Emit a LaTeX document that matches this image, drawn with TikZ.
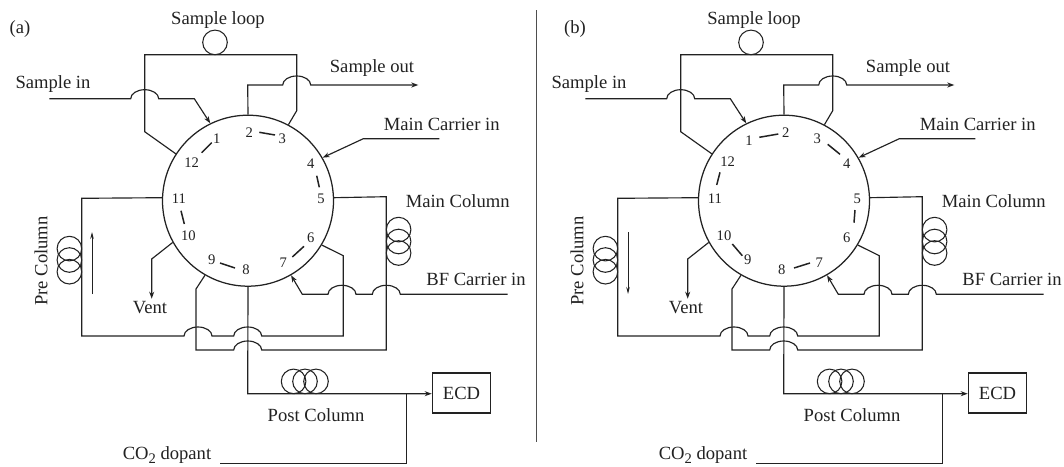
\documentclass[tikz,border=0pt]{standalone}
\usepackage{fontspec}
\setmainfont{Liberation Serif}
\usetikzlibrary{arrows.meta}
\definecolor{ink}{HTML}{222222}
\tikzset{
  pipe/.style={draw=ink,line width=1.15pt,line join=miter},
  flow/.style={pipe,-{Stealth[length=7pt,width=5pt]}},
  thinflow/.style={draw=ink,line width=0.8pt,-{Stealth[length=7pt,width=3.5pt]}},
  coil/.style={draw=ink,line width=1.05pt,circle,minimum size=24.6pt,inner sep=0pt},
  valve/.style={draw=ink,line width=1.25pt,circle,minimum size=171pt,inner sep=0pt},
  lbl/.style={text=ink,font=\fontsize{18.6pt}{20pt}\selectfont,inner sep=0pt},
  port/.style={text=ink,font=\fontsize{14.6pt}{16pt}\selectfont,inner sep=0pt},
  connbar/.style={draw=ink,line width=1.5pt},
  detector/.style={draw=ink,line width=1.2pt,minimum width=58.4pt,minimum height=40pt,inner sep=0pt,
    font=\fontsize{18.6pt}{20pt}\selectfont,text=ink}
}
\newcommand\jumpR{arc[start angle=180,end angle=0,x radius=14pt,y radius=9pt]}
\newcommand\jumpL{arc[start angle=0,end angle=180,x radius=14pt,y radius=9pt]}
\newcommand\lnk[5]{\coordinate (#1s) at (#2,#3); \coordinate (#1e) at (#4,#5); \draw[connbar] (#1s) -- (#1e);}
% #1 prefix, #2 y of the CO2 text
\newcommand\panel[2]{%
  \node[valve] (#1v) at (248,200.7) {};
  \node[lbl] (#1loopt) at (218,20) {Sample loop};
  \node[coil] (#1loop) at (215,42.4) {};
  \node[lbl] (#1int) at (53,84) {Sample in};
  \node[lbl] (#1outt) at (372,68) {Sample out};
  \node[lbl] (#1mct) at (441.7,124) {Main Carrier in};
  \node[lbl] (#1mcolt) at (457.7,201) {Main Column};
  \node[lbl,rotate=90] (#1pret) at (41,261) {Pre Column};
  \node[lbl] (#1ventt) at (150,308) {Vent};
  \node[lbl] (#1postt) at (316,414.7) {Post Column};
  \node[lbl] (#1bft) at (476,279.7) {BF Carrier in};
  \node[lbl,anchor=base] (#1cot) at (167,#2) {CO\raisebox{-4pt}{\fontsize{14.6pt}{16pt}\selectfont 2} dopant};
  \node[detector] (#1ecd) at (461.5,393) {ECD};
  % coils
  \node[coil] (#1mc1) at (398.6,229.6) {};
  \node[coil] (#1mc2) at (398.6,241.5) {};
  \node[coil] (#1mc3) at (398.6,253) {};
  \node[coil] (#1pc1) at (69.4,248.6) {};
  \node[coil] (#1pc2) at (69.4,260) {};
  \node[coil] (#1pc3) at (69.4,271.7) {};
  \node[coil] (#1po1) at (293.6,381.4) {};
  \node[coil] (#1po2) at (305,381.4) {};
  \node[coil] (#1po3) at (316,381.4) {};
  % sample loop
  \draw[pipe] (#1v.147) -- (144.7,131.7) -- (144.7,54.7) -- (296.7,54.7) -- (296.7,110.7) -- (#1v.62);
  % sample in
  \coordinate (#1ins) at (49.3,98.7);
  \draw[flow] (#1ins) -- (130.7,98.7) \jumpR -- (194.3,98.7) -- (#1v.116);
  % sample out
  \coordinate (#1oute) at (418.3,85);
  \draw[flow] (#1v.90) -- (247.7,85) -- (282.7,85) \jumpR -- (#1oute);
  % main carrier
  \coordinate (#1mcs) at (439.3,138.7);
  \draw[flow] (#1mcs) -- (363.3,138.7) -- (#1v.30.5);
  % main column path
  \draw[pipe] (#1v.2.7) -- (386.3,196.7) -- (386.3,350) -- (261.7,350) \jumpL -- (196,350) -- (196,289) -- (#1v.240);
  % pre column path
  \draw[pipe] (#1v.-31) -- (343.3,255.7) -- (343.3,336) -- (261.7,336) \jumpL -- (212,336) \jumpL -- (81.7,336) -- (81.7,198.3) -- (#1v.178.4);
  % vent
  \draw[flow] (#1v.209) -- (151.7,259) -- (151.7,298.7);
  % post column
  \draw[flow] (#1v.-90) -- (247.7,393.7) -- (#1ecd.west |- 0,393.7);
  % CO2 dopant
  \coordinate (#1cos) at (220,463.7);
  \coordinate (#1joint) at (406.7,393.7);
  \draw[pipe] (#1cos) -- (406.7,463.7) -- (#1joint);
  % BF carrier
  \coordinate (#1bfs) at (507.7,294.3);
  \draw[flow] (#1bfs) -- (400.3,294.3) \jumpL -- (356,294.3) \jumpL -- (302.3,294.3) -- (#1v.-60);
}
\begin{document}
\begin{tikzpicture}[x=1pt,y=-1pt]
\useasboundingbox (0,0) rectangle (1064,466);
\fill[white] (0,0) rectangle (1064,466);
\begin{scope}
  \panel{a}{459}
  \node[lbl] (alabel) at (20,29) {(a)};
  \coordinate (aflows) at (92,294); \coordinate (aflowe) at (92,232);
  \draw[thinflow] (aflows) -- (aflowe);
  \node[port] (a1) at (216.7,138.3) {1};
  \node[port] (a2) at (249.3,132.3) {2};
  \node[port] (a3) at (282.3,138.3) {3};
  \node[port] (a4) at (310.7,163.3) {4};
  \node[port] (a5) at (321,199) {5};
  \node[port] (a6) at (310.7,237.7) {6};
  \node[port] (a7) at (283.3,262.3) {7};
  \node[port] (a8) at (246,269.7) {8};
  \node[port] (a9) at (211.7,259.7) {9};
  \node[port] (a10) at (188.3,235.7) {10};
  \node[port] (a11) at (179,199) {11};
  \node[port] (a12) at (191.7,162.3) {12};
  \lnk{abA}{201.7}{152.7}{211.7}{142.7}
  \lnk{abB}{259.3}{132.3}{275}{135}
  \lnk{abC}{316.7}{175.7}{319.3}{187.3}
  \lnk{abD}{304}{246.3}{292.3}{257}
  \lnk{abE}{220}{263}{235}{268}
  \lnk{abF}{181}{210.7}{184.3}{224}
\end{scope}
\coordinate (divs) at (536.7,10); \coordinate (dive) at (536.7,442.3);
\draw[draw=ink!80,line width=1pt] (divs) -- (dive);
\begin{scope}[xshift=536pt]
  \panel{b}{459.5}
\end{scope}
\node[lbl] (blabel) at (575,29) {(b)};
\coordinate (bflows) at (628,232); \coordinate (bflowe) at (628,294);
\draw[thinflow] (bflows) -- (bflowe);
\node[port] (b1) at (749,141) {1};
\node[port] (b2) at (785.7,132.3) {2};
\node[port] (b3) at (817.3,138.3) {3};
\node[port] (b4) at (846.7,163.3) {4};
\node[port] (b5) at (857.3,199) {5};
\node[port] (b6) at (846.7,237.7) {6};
\node[port] (b7) at (819.3,263) {7};
\node[port] (b8) at (781.7,269.7) {8};
\node[port] (b9) at (747.7,259.7) {9};
\node[port] (b10) at (724,235.7) {10};
\node[port] (b11) at (715,199) {11};
\node[port] (b12) at (727.7,162) {12};
\lnk{bbA}{759.3}{137.3}{778.3}{134}
\lnk{bbB}{827.7}{144.3}{840}{154.3}
\lnk{bbC}{855}{210}{854}{222.7}
\lnk{bbD}{794}{268}{810}{263}
\lnk{bbE}{732.3}{244}{742.3}{255.7}
\lnk{bbF}{716.7}{185}{720}{172.3}
\end{tikzpicture}
\end{document}
